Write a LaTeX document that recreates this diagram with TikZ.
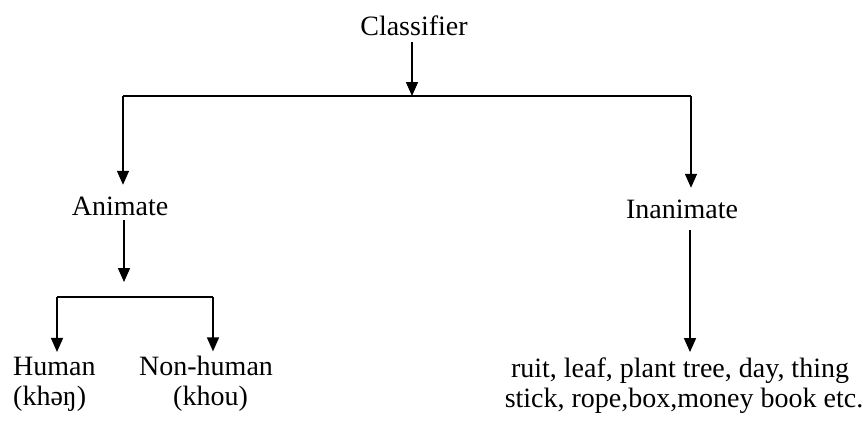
\documentclass[tikz,border=0pt]{standalone}
\usepackage{fontspec}
\setmainfont{Liberation Serif}
\usetikzlibrary{arrows.meta,calc}
\begin{document}
\begin{tikzpicture}[x=1pt,y=-1pt,
  lbl/.style={inner sep=0pt, font=\fontsize{28}{30}\selectfont},
  ln/.style={line width=1.5pt},
  arr/.style={line width=1.5pt, -{Triangle[length=14pt,width=12pt]}}]
\useasboundingbox (0,0) rectangle (867,421);
% texts
\node[lbl, anchor=base] (cls) at (414,35) {Classifier};
\node[lbl, anchor=base] (ani) at (120,215) {Animate};
\node[lbl, anchor=base] (ina) at (682,218) {Inanimate};
\node[lbl, anchor=base west] (hum) at (13,375) {Human};
\node[lbl, anchor=base west] (non) at (139,375) {Non-human};
\node[lbl, anchor=base west] (khe) at (13,405) {(khəŋ)};
\node[lbl, anchor=base west] (kho) at (173,405) {(khou)};
\node[lbl, anchor=base] (l1) at (680,377) {ruit, leaf, plant tree, day, thing};
\node[lbl, anchor=base] (l2) at (684,407) {stick, rope,box,money book etc.};
% junctions
\coordinate (jc) at (412,96);
\coordinate (jl) at (123,96);
\coordinate (jr) at (691,96);
\coordinate (ja) at (124,297);
\coordinate (jal) at (57,297);
\coordinate (jar) at (213,297);
% connectors
\draw[arr] ($(cls.south -| jc)+(0,7)$) -- (jc);
\draw[ln] (jl) -- (jr);
\draw[arr] (jl) -- ($(jl |- ani.north)+(0,-11.5)$);
\draw[arr] (jr) -- ($(jr |- ina.north)+(0,-11.5)$);
\draw[arr] ($(ani.south -| ja)+(0,5)$) -- ($(ja)+(0,-15)$);
\draw[ln] (jal) -- (jar);
\draw[arr] (jal) -- ($(jal |- hum.north)+(0,-4.5)$);
\draw[arr] (jar) -- ($(jar |- non.north)+(0,-4)$);
\draw[arr] ($(ina.south -| 690,0)+(0,12)$) -- ($(l1.north -| 690,0)+(0,-5)$);
\end{tikzpicture}
\end{document}
